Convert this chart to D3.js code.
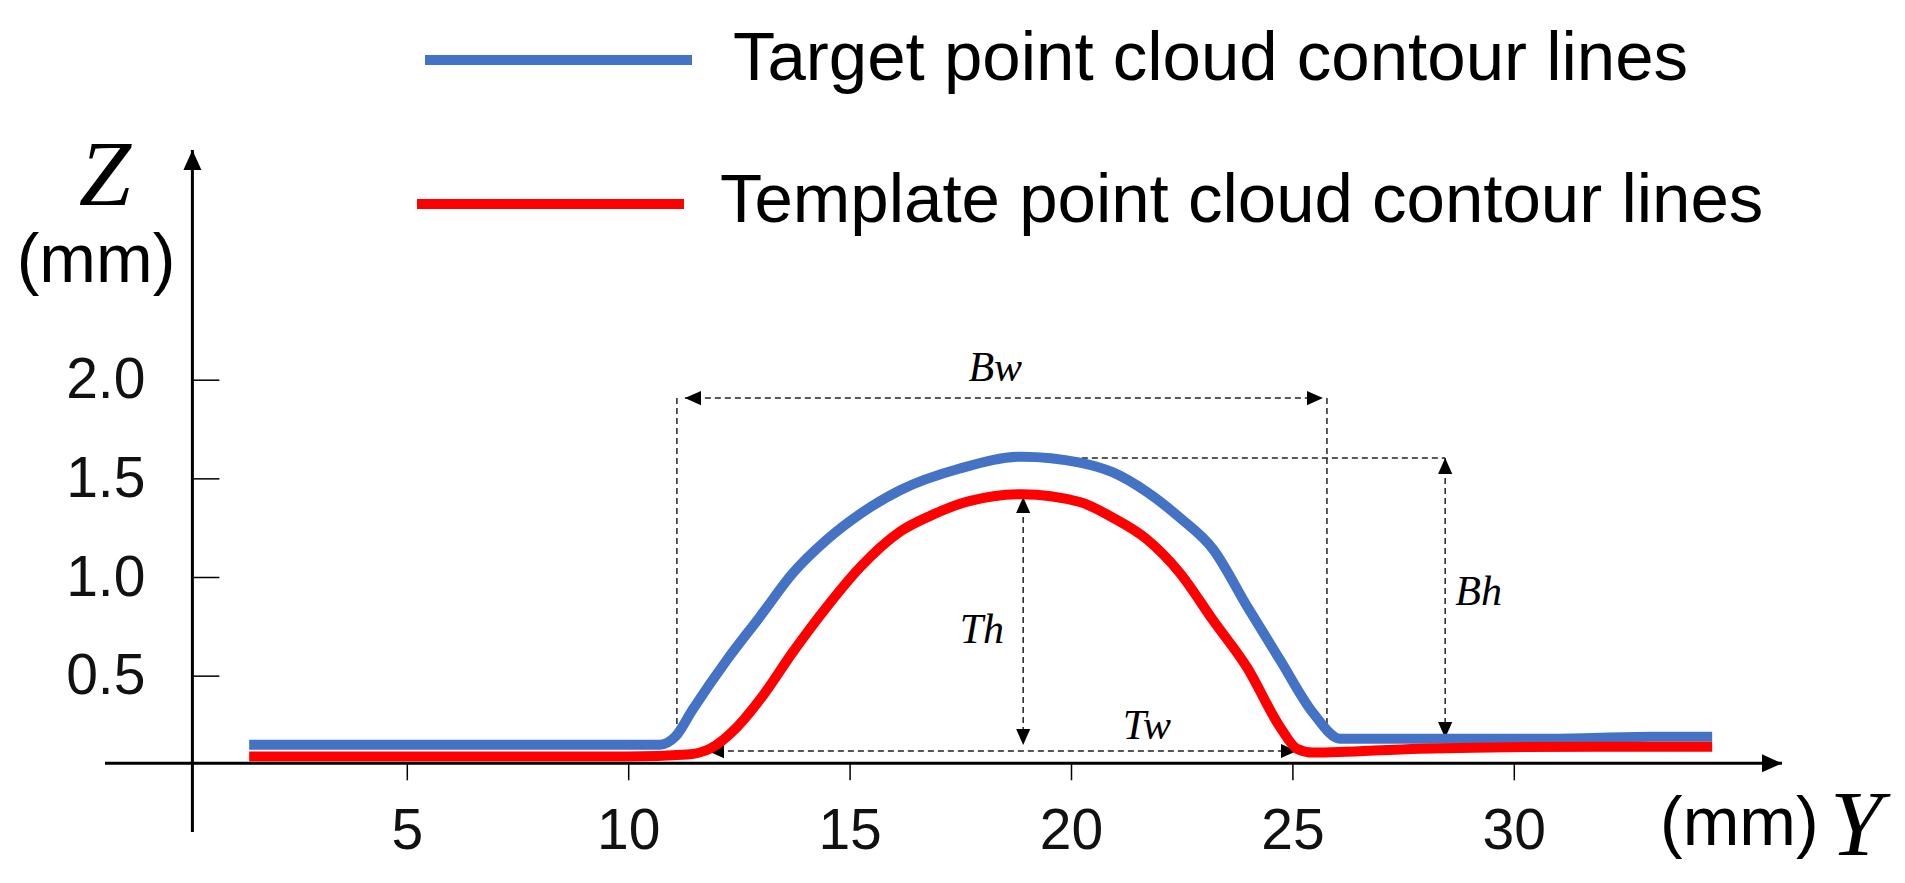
<!DOCTYPE html>
<html lang="en">
<head>
    <meta charset="UTF-8">
    <title>Contour lines</title>
    <style>
        body{
            margin: 0;
            background-color: #fff;
        }
        svg{
            display: block;
            background-color: #fff;
        }
        .axis text{
            font-family: "Liberation Sans", Arial, sans-serif;
            font-size: 57px;
            fill: #111;
        }
        .axis line{
            stroke: #000;
            stroke-width: 1.5px;
        }
        .dim{
            fill: none;
            stroke: #222;
            stroke-width: 1.5px;
            stroke-dasharray: 6 4;
        }
        .lbl{
            font-family: "Liberation Serif", "Times New Roman", serif;
            font-style: italic;
        }
        .sans{
            font-family: "Liberation Sans", Arial, sans-serif;
        }
    </style>
</head>
<body>

<div id="chart"></div>

<script src="https://cdn.jsdelivr.net/npm/d3@7/dist/d3.min.js"></script>
<script>
    // Y position (mm)
    var blueY = [1.44, 6.0, 10.72, 11.06, 11.46, 12.23, 12.98, 13.72, 14.49, 15.24, 16.14, 17.49, 18.89,
        20.20, 20.95, 21.72, 22.46, 23.21, 23.98, 24.72, 25.47, 26.08, 27.88, 30.82, 33.08, 34.48];
    var blueZ = [0.15, 0.15, 0.15, 0.19, 0.33, 0.58, 0.80, 1.02, 1.19, 1.32, 1.44, 1.55, 1.61,
        1.58, 1.53, 1.43, 1.30, 1.14, 0.85, 0.58, 0.31, 0.18, 0.18, 0.18, 0.19, 0.19];

    var redY = [1.44, 6.0, 10.0, 11.33, 11.85, 12.46, 12.98, 13.72, 14.49, 15.24, 16.14, 16.82, 17.70, 18.89,
        20.20, 20.95, 21.72, 22.46, 23.21, 23.98, 24.72, 25.10, 25.47, 27.88, 31.95, 34.48];
    var redZ = [0.09, 0.09, 0.09, 0.10, 0.13, 0.24, 0.38, 0.62, 0.85, 1.05, 1.23, 1.31, 1.385, 1.42,
        1.38, 1.30, 1.19, 1.02, 0.78, 0.54, 0.24, 0.13, 0.11, 0.13, 0.14, 0.14];

    var seriesNames = ['Target point cloud contour lines', 'Template point cloud contour lines'];
    var seriesColors = ['#4472C4', '#FF0000'];

    var xTicks = [5, 10, 15, 20, 25, 30];
    var yTicks = [0.5, 1.0, 1.5, 2.0];

    // dimension lines: [y1, z1, y2, z2, arrows]
    var dimLines = [
        [11.28, 1.907, 25.69, 1.907, 2],   // Bw
        [11.10, 1.907, 11.10, 0.189, 0],
        [25.78, 1.907, 25.78, 0.189, 0],
        [18.89, 1.603, 28.45, 1.603, 0],
        [28.45, 1.603, 28.45, 0.184, 2],   // Bh
        [18.92, 1.405, 18.92, 0.149, 2],   // Th
        [11.80, 0.118, 25.10, 0.118, 2]    // Tw
    ];
    var dimLabels = ['Bw', 'Bh', 'Th', 'Tw'];
    var dimLabelY = [18.29, 28.68, 18.49, 21.17];
    var dimLabelZ = [1.993, 0.858, 0.666, 0.180];
    var dimLabelAnchor = ['middle', 'start', 'end', 'start'];

    var width = 1905, height = 883;

    var svg = d3.select('#chart')
        .append('svg')
        .attr('width', width)
        .attr('height', height);

    var xScale = d3.scaleLinear().domain([0, 30]).range([185.4, 1513.8]);
    var yScale = d3.scaleLinear().domain([0, 2]).range([774.3, 379.7]);

    var axisX = xScale(0) + 7;
    var axisY = yScale(0) - 11;

    var defs = svg.append('defs');
    defs.append('marker')
        .attr('id', 'arrow')
        .attr('markerUnits', 'userSpaceOnUse')
        .attr('viewBox', '0 -10 20 20')
        .attr('refX', 20).attr('refY', 0)
        .attr('markerWidth', 20).attr('markerHeight', 20)
        .attr('orient', 'auto-start-reverse')
        .append('path')
        .attr('d', 'M0,-9L20,0L0,9Z')
        .attr('fill', '#000');
    defs.append('marker')
        .attr('id', 'dimArrow')
        .attr('markerUnits', 'userSpaceOnUse')
        .attr('viewBox', '0 -10 20 20')
        .attr('refX', 18).attr('refY', 0)
        .attr('markerWidth', 18).attr('markerHeight', 18)
        .attr('orient', 'auto-start-reverse')
        .append('path')
        .attr('d', 'M0,-8L18,0L0,8Z')
        .attr('fill', '#000');

    // axis lines with arrows
    svg.append('line')
        .attr('x1', 105).attr('y1', axisY)
        .attr('x2', 1782).attr('y2', axisY)
        .attr('stroke', '#000').attr('stroke-width', 3)
        .attr('marker-end', 'url(#arrow)');
    svg.append('line')
        .attr('x1', axisX).attr('y1', 832)
        .attr('x2', axisX).attr('y2', 150)
        .attr('stroke', '#000').attr('stroke-width', 3)
        .attr('marker-end', 'url(#arrow)');

    var xAxis = d3.axisBottom(xScale)
        .tickValues(xTicks)
        .tickSizeInner(17).tickSizeOuter(0)
        .tickPadding(28)
        .tickFormat(d3.format('d'));
    var xg = svg.append('g')
        .attr('class', 'axis')
        .attr('transform', 'translate(0,' + axisY + ')')
        .call(xAxis);
    xg.select('.domain').remove();

    var yAxis = d3.axisLeft(yScale)
        .tickValues(yTicks)
        .tickSizeInner(-27).tickSizeOuter(0)
        .tickPadding(47)
        .tickFormat(d3.format('.1f'));
    var yg = svg.append('g')
        .attr('class', 'axis')
        .attr('transform', 'translate(' + axisX + ',0)')
        .call(yAxis);
    yg.select('.domain').remove();

    // axis titles
    svg.append('text').attr('class', 'lbl')
        .attr('x', 105).attr('y', 205)
        .attr('text-anchor', 'middle')
        .attr('font-size', 94)
        .text('Z');
    svg.append('text').attr('class', 'sans')
        .attr('x', 96).attr('y', 282)
        .attr('text-anchor', 'middle')
        .attr('font-size', 68)
        .text('(mm)');
    svg.append('text').attr('class', 'sans')
        .attr('x', 1660).attr('y', 845)
        .attr('font-size', 68)
        .text('(mm)');
    svg.append('text').attr('class', 'lbl')
        .attr('x', 1830).attr('y', 855)
        .attr('font-size', 94)
        .text('Y');

    // dimension lines
    svg.selectAll('.dim')
        .data(dimLines)
        .enter()
        .append('line')
        .attr('class', 'dim')
        .attr('x1', function(d){ return xScale(d[0]); })
        .attr('y1', function(d){ return yScale(d[1]); })
        .attr('x2', function(d){ return xScale(d[2]); })
        .attr('y2', function(d){ return yScale(d[3]); })
        .attr('marker-start', function(d){ return d[4] ? 'url(#dimArrow)' : null; })
        .attr('marker-end', function(d){ return d[4] ? 'url(#dimArrow)' : null; });

    svg.selectAll('.dimLabel')
        .data(dimLabels)
        .enter()
        .append('text')
        .attr('class', 'lbl dimLabel')
        .attr('x', function(d, i){ return xScale(dimLabelY[i]); })
        .attr('y', function(d, i){ return yScale(dimLabelZ[i]); })
        .attr('text-anchor', function(d, i){ return dimLabelAnchor[i]; })
        .attr('font-size', 42)
        .text(function(d){ return d; });

    // contour lines
    var line = d3.line()
        .x(function(d){ return xScale(d[0]); })
        .y(function(d){ return yScale(d[1]); })
        .curve(d3.curveMonotoneX);

    var series = [d3.zip(blueY, blueZ), d3.zip(redY, redZ)];

    svg.selectAll('.contour')
        .data(series)
        .enter()
        .append('path')
        .attr('class', 'contour')
        .attr('d', line)
        .attr('fill', 'none')
        .attr('stroke', function(d, i){ return seriesColors[i]; })
        .attr('stroke-width', 10)
        .attr('stroke-linejoin', 'round');

    // legend
    var legend = svg.selectAll('.legend')
        .data(seriesNames)
        .enter()
        .append('g')
        .attr('class', 'legend')
        .attr('transform', function(d, i){
            return 'translate(' + (i ? 417 : 425) + ',' + (i ? 204 : 60) + ')';
        });
    legend.append('line')
        .attr('x1', 0).attr('x2', 267)
        .attr('stroke', function(d, i){ return seriesColors[i]; })
        .attr('stroke-width', 10);
    legend.append('text')
        .attr('class', 'sans')
        .attr('x', function(d, i){ return i ? 303 : 308; })
        .attr('y', function(d, i){ return i ? 18 : 20; })
        .attr('font-size', 69)
        .attr('fill', '#000')
        .text(function(d){ return d; });
</script>

</body>
</html>
